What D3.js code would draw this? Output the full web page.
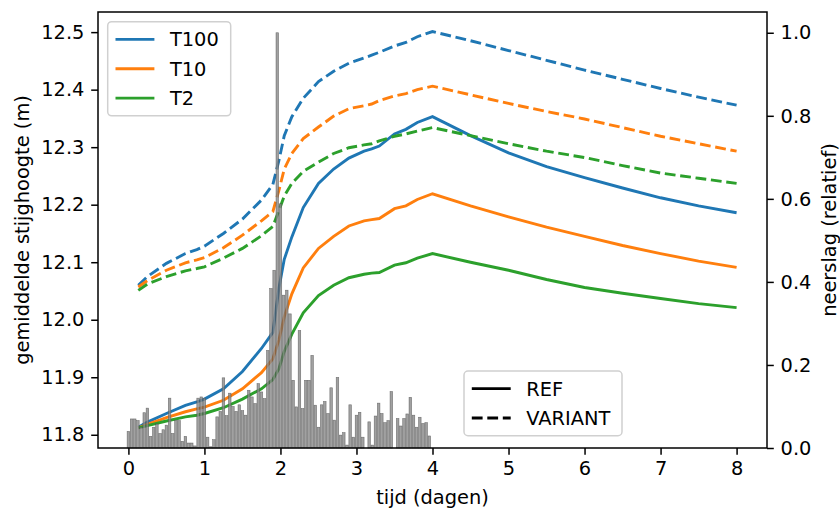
<!DOCTYPE html>
<html>
<head>
<meta charset="utf-8">
<script src="https://cdn.jsdelivr.net/npm/d3@7"></script>
<style>
  body { margin: 0; background: #fff; }
  text { font-family: "DejaVu Sans", sans-serif; }
</style>
</head>
<body>
<svg id="chart" width="840" height="511"></svg>
<script>
// time axis of the groundwater series (days)
const times = [0.13, 0.25, 0.5, 0.75, 0.9, 1.0, 1.25, 1.5, 1.75, 1.9, 1.98, 2.05, 2.15, 2.3, 2.5, 2.7,
  2.9, 3.1, 3.2, 3.3, 3.5, 3.65, 3.8, 4.0, 4.5, 5.0, 5.5, 6.0, 6.5, 7.0, 7.5, 8.0];

// REF scenario
const refT100 = [11.813, 11.822, 11.837, 11.851, 11.857, 11.862, 11.880, 11.910, 11.950, 11.978, 12.055, 12.105,
  12.144, 12.195, 12.237, 12.262, 12.281, 12.293, 12.297, 12.302, 12.323, 12.331, 12.343, 12.353,
  12.320, 12.290, 12.266, 12.247, 12.229, 12.212, 12.198, 12.186];
const refT10 = [11.812, 11.818, 11.830, 11.840, 11.845, 11.848, 11.860, 11.880, 11.908, 11.932, 11.965, 12.005,
  12.045, 12.090, 12.124, 12.145, 12.163, 12.172, 12.174, 12.176, 12.193, 12.198, 12.209, 12.219,
  12.198, 12.179, 12.161, 12.145, 12.129, 12.115, 12.102, 12.091];
const refT2 = [11.812, 11.816, 11.824, 11.831, 11.834, 11.837, 11.847, 11.862, 11.880, 11.896, 11.915, 11.945,
  11.975, 12.012, 12.042, 12.060, 12.073, 12.079, 12.081, 12.082, 12.095, 12.099, 12.107, 12.115,
  12.100, 12.086, 12.070, 12.056, 12.046, 12.037, 12.028, 12.021];

// VARIANT scenario
const varT100 = [12.060, 12.075, 12.098, 12.115, 12.122, 12.128, 12.150, 12.175, 12.208, 12.235, 12.277, 12.320,
  12.353, 12.385, 12.414, 12.432, 12.446, 12.455, 12.460, 12.465, 12.476, 12.482, 12.492, 12.501,
  12.485, 12.468, 12.451, 12.434, 12.418, 12.402, 12.387, 12.373];
const varT10 = [12.057, 12.068, 12.086, 12.099, 12.104, 12.108, 12.125, 12.147, 12.172, 12.188, 12.225, 12.262,
  12.289, 12.315, 12.335, 12.354, 12.367, 12.372, 12.375, 12.381, 12.389, 12.393, 12.400, 12.406,
  12.391, 12.376, 12.362, 12.349, 12.334, 12.319, 12.306, 12.293];
const varT2 = [12.051, 12.062, 12.075, 12.085, 12.089, 12.092, 12.107, 12.124, 12.146, 12.162, 12.190, 12.215,
  12.237, 12.258, 12.274, 12.289, 12.299, 12.304, 12.306, 12.311, 12.319, 12.323, 12.328, 12.334,
  12.320, 12.306, 12.293, 12.282, 12.268, 12.255, 12.246, 12.237];

// hourly relative rainfall, first 4 days
const rain = [0.040, 0.070, 0.070, 0.066, 0.050, 0.085, 0.096, 0.028, 0.050, 0.058, 0.035, 0.044,
  0.055, 0.120, 0.035, 0.066, 0.066, 0.016, 0.028, 0.012, 0.012, 0.005, 0.120, 0.123,
  0.120, 0.026, 0.003, 0.020, 0.075, 0.088, 0.169, 0.078, 0.132, 0.100, 0.088, 0.104,
  0.090, 0.079, 0.139, 0.123, 0.107, 0.155, 0.135, 0.119, 0.235, 0.384, 0.428, 1.000,
  0.588, 0.368, 0.380, 0.323, 0.163, 0.099, 0.283, 0.095, 0.163, 0.163, 0.223, 0.103,
  0.050, 0.104, 0.112, 0.083, 0.145, 0.067, 0.170, 0.031, 0.037, 0.007, 0.104, 0.026,
  0.079, 0.086, 0.026, 0.000, 0.063, 0.007, 0.077, 0.108, 0.083, 0.061, 0.066, 0.136,
  0.000, 0.071, 0.053, 0.071, 0.082, 0.122, 0.079, 0.050, 0.074, 0.059, 0.061, 0.029];
const rainTimes = rain.map((d, i) => i / 24);

const series = [
  { name: "T100", color: "#1f77b4", ref: refT100, variant: varT100 },
  { name: "T10", color: "#ff7f0e", ref: refT10, variant: varT10 },
  { name: "T2", color: "#2ca02c", ref: refT2, variant: varT2 }
];

const xTicks = [0, 1, 2, 3, 4, 5, 6, 7, 8];
const yTicks = [11.8, 11.9, 12.0, 12.1, 12.2, 12.3, 12.4, 12.5];
const y2Ticks = [0, 0.2, 0.4, 0.6, 0.8, 1.0];

const svg = d3.select("#chart");
const plotL = 98, plotR = 767, plotT = 12, plotB = 448;
const fs = 19.4;

const x = d3.scaleLinear().domain([-0.4, 8.4]).range([plotL, plotR]);
const y = d3.scaleLinear().domain([11.777, 12.535]).range([plotB, plotT]);
const y2 = d3.scaleLinear().domain([0, 1.05]).range([plotB, plotT]);

const dash = "10.8,4.7";
const line = d3.line().x(d => x(d[0])).y(d => y(d[1]));

// groundwater lines
series.forEach(s => {
  svg.append("path")
    .datum(times.map((t, i) => [t, s.ref[i]]))
    .attr("d", line)
    .attr("fill", "none")
    .attr("stroke", s.color)
    .attr("stroke-width", 2.9);
  svg.append("path")
    .datum(times.map((t, i) => [t, s.variant[i]]))
    .attr("d", line)
    .attr("fill", "none")
    .attr("stroke", s.color)
    .attr("stroke-width", 2.9)
    .attr("stroke-dasharray", dash);
});

// rainfall bars on the twin axis
const bw = x(0.8 / 24) - x(0);
svg.append("g").selectAll("rect")
  .data(rain)
  .join("rect")
  .attr("x", (d, i) => x(rainTimes[i]) - bw / 2)
  .attr("y", d => y2(d))
  .attr("width", bw)
  .attr("height", d => y2(0) - y2(d))
  .attr("fill", "#8a8a8a")
  .attr("fill-opacity", 0.8)
  .attr("stroke", "#4a4a4a")
  .attr("stroke-opacity", 0.7)
  .attr("stroke-width", 0.6);

// axes
function styleAxis(g) {
  g.selectAll("path").remove();
  g.selectAll("line").attr("stroke", "#000").attr("stroke-width", 1.5);
  g.selectAll("text").attr("font-size", fs).attr("fill", "#000")
    .attr("font-family", "DejaVu Sans, sans-serif");
}
svg.append("g")
  .attr("transform", `translate(0,${plotB})`)
  .call(d3.axisBottom(x).tickValues(xTicks).tickFormat(d3.format("d")).tickSize(6.8).tickPadding(6.8))
  .call(styleAxis);
svg.append("g")
  .attr("transform", `translate(${plotL},0)`)
  .call(d3.axisLeft(y).tickValues(yTicks).tickFormat(d3.format(".1f")).tickSize(6.8).tickPadding(6.8))
  .call(styleAxis);
svg.append("g")
  .attr("transform", `translate(${plotR},0)`)
  .call(d3.axisRight(y2).tickValues(y2Ticks).tickFormat(d3.format(".1f")).tickSize(6.8).tickPadding(6.8))
  .call(styleAxis);

// frame
svg.append("rect")
  .attr("x", plotL).attr("y", plotT)
  .attr("width", plotR - plotL).attr("height", plotB - plotT)
  .attr("fill", "none").attr("stroke", "#000").attr("stroke-width", 1.5);

// axis titles
svg.append("text")
  .attr("x", (plotL + plotR) / 2).attr("y", 504)
  .attr("text-anchor", "middle").attr("font-size", fs)
  .text("tijd (dagen)");
svg.append("text")
  .attr("transform", "translate(29,230) rotate(-90)")
  .attr("text-anchor", "middle").attr("font-size", fs)
  .text("gemiddelde stijghoogte (m)");
svg.append("text")
  .attr("transform", "translate(836,230) rotate(-90)")
  .attr("text-anchor", "middle").attr("font-size", fs)
  .text("neerslag (relatief)");

// legends
function legend(x0, y0, w, items) {
  const g = svg.append("g");
  g.append("rect")
    .attr("x", x0).attr("y", y0)
    .attr("width", w).attr("height", 15.6 + items.length * 19.7 + (items.length - 1) * 9.7)
    .attr("rx", 4)
    .attr("fill", "#fff").attr("fill-opacity", 0.8)
    .attr("stroke", "#d0d0d0").attr("stroke-width", 1.5);
  items.forEach((it, i) => {
    const cy = y0 + 7.8 + 9.85 + i * 29.4;
    g.append("line")
      .attr("x1", x0 + 7.8).attr("x2", x0 + 7.8 + 38.9)
      .attr("y1", cy).attr("y2", cy)
      .attr("stroke", it.color).attr("stroke-width", 2.9)
      .attr("stroke-dasharray", it.dash || null);
    g.append("text")
      .attr("x", x0 + 7.8 + 38.9 + 15.5).attr("y", cy)
      .attr("dy", "0.36em").attr("font-size", fs)
      .text(it.label);
  });
}
legend(107.7, 21.7, 123, series.map(s => ({ label: s.name, color: s.color })));
legend(464, 371, 158, [
  { label: "REF", color: "#000" },
  { label: "VARIANT", color: "#000", dash: dash }
]);
</script>
</body>
</html>
